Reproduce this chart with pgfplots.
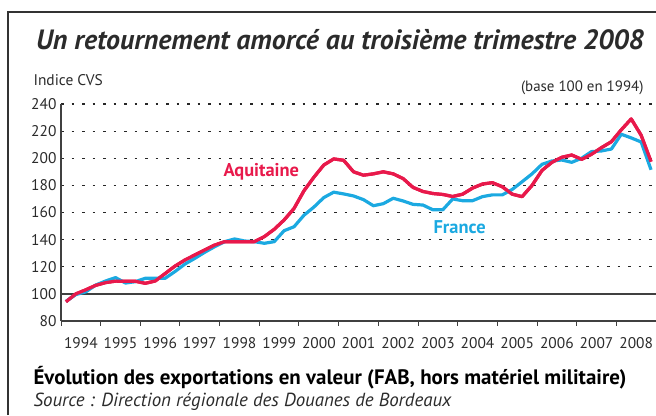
\documentclass[border=0pt]{standalone}
\usepackage{pgfplots}
\pgfplotsset{compat=1.18}
\usepackage{pgfplotstable}
\usepackage{fontspec}
\setmainfont{PT Sans}
\definecolor{aq}{HTML}{E8194B}
\definecolor{fr}{HTML}{1BA9E1}
\definecolor{txt}{HTML}{2B2B2B}
\pgfplotstableread{
x aq fr
1994.125 94.2 94.5
1994.375 100.0 99.5
1994.625 103.0 101.5
1994.875 106.3 106.5
1995.125 108.3 109.5
1995.375 109.4 112.0
1995.625 109.3 108.0
1995.875 109.3 109.0
1996.125 107.8 111.5
1996.375 109.5 111.5
1996.625 115.0 111.5
1996.875 120.5 116.5
1997.125 125.0 122.0
1997.375 128.7 126.2
1997.625 132.4 130.7
1997.875 136.0 134.8
1998.125 138.5 138.5
1998.375 138.5 140.5
1998.625 138.5 139.0
1998.875 138.5 138.5
1999.125 142.2 137.3
1999.375 147.6 138.5
1999.625 154.5 146.6
1999.875 163.0 149.5
2000.125 176.0 158.0
2000.375 186.0 164.0
2000.625 195.0 171.0
2000.875 199.5 175.0
2001.125 198.5 173.7
2001.375 190.0 172.2
2001.625 187.5 169.5
2001.875 188.5 165.0
2002.125 190.0 166.5
2002.375 188.5 170.5
2002.625 185.0 168.5
2002.875 178.5 166.0
2003.125 175.5 165.5
2003.375 174.0 162.0
2003.625 173.3 162.0
2003.875 171.8 170.0
2004.125 173.5 168.7
2004.375 178.0 168.7
2004.625 181.0 171.7
2004.875 182.0 173.0
2005.125 179.0 173.0
2005.375 173.5 177.0
2005.625 171.7 182.7
2005.875 180.0 188.5
2006.125 191.0 195.5
2006.375 197.0 198.0
2006.625 200.7 198.7
2006.875 202.4 197.0
2007.125 199.2 200.0
2007.375 203.0 204.9
2007.625 207.8 205.4
2007.875 212.2 206.8
2008.125 221.0 217.7
2008.375 229.0 215.0
2008.625 217.0 212.0
2008.875 197.5 191.5
}\data
\begin{document}
\begin{tikzpicture}[x=1bp,y=1bp]
\useasboundingbox (0,0) rectangle (656,415);
\draw[line width=1.3bp, black!80] (8,0) -- (8,403) -- (660,403);
\node[font=\fontsize{28}{32}\selectfont\bfseries\itshape, text=txt] at (340,375) {Un retournement amorcé au troisième trimestre 2008};
\node[anchor=west, font=\fontsize{15.5}{18}\selectfont, text=txt] at (30,335) {Indice CVS};
\node[anchor=east, font=\fontsize{15}{18}\selectfont, text=txt] at (647,327) {(base 100 en 1994)};
\node[anchor=west, font=\fontsize{21}{25}\selectfont\bfseries, text=black] at (30,37) {Évolution des exportations en valeur (FAB, hors matériel militaire)};
\node[anchor=west, font=\fontsize{19}{22}\selectfont\itshape, text=txt] at (30,13) {Source : Direction régionale des Douanes de Bordeaux};
\begin{axis}[
  at={(61bp,94bp)}, anchor=south west, scale only axis,
  width=595bp, height=217bp,
  xmin=1994, xmax=2009, ymin=80, ymax=240,
  axis lines*=left,
  axis line style={line width=1.3bp, black!75},
  clip=false,
  xtick={1994.5,1995.5,...,2008.5},
  xticklabels={1994,1995,1996,1997,1998,1999,2000,2001,2002,2003,2004,2005,2006,2007,2008},
  minor xtick={1994,1995,...,2008},
  tick align=outside,
  major tick length=0pt,
  minor tick length=4.5bp,
  minor tick style={line width=1bp, black!75},
  ytick={80,100,...,240},
  ymajorgrids,
  major grid style={black!85, line width=1.2bp, dash pattern=on 2.5bp off 8bp},
  extra y ticks={100},
  extra y tick labels={},
  extra y tick style={major grid style={solid, black!75, line width=1.3bp}},
  ticklabel style={font=\fontsize{15.5}{18}\selectfont, text=txt},
  xticklabel style={yshift=-13bp},
  yticklabel style={xshift=-1bp},
  /pgf/number format/assume math mode=true,
  /pgf/number format/1000 sep={},
]
\addplot[aq, line width=3.2bp, line join=round] table[x=x, y=aq] {\data};
\addplot[fr, line width=3.2bp, line join=round] table[x=x, y=fr] {\data};
\addplot[aq, line width=3.2bp, line join=round] table[x=x, y=aq] {\data};
\node[font=\fontsize{18.5}{22}\selectfont\bfseries, text=aq] at (axis cs:1999.05,190) {Aquitaine};
\node[font=\fontsize{18.5}{22}\selectfont\bfseries, text=fr] at (axis cs:2004.05,149.5) {France};
\end{axis}
\end{tikzpicture}
\end{document}
